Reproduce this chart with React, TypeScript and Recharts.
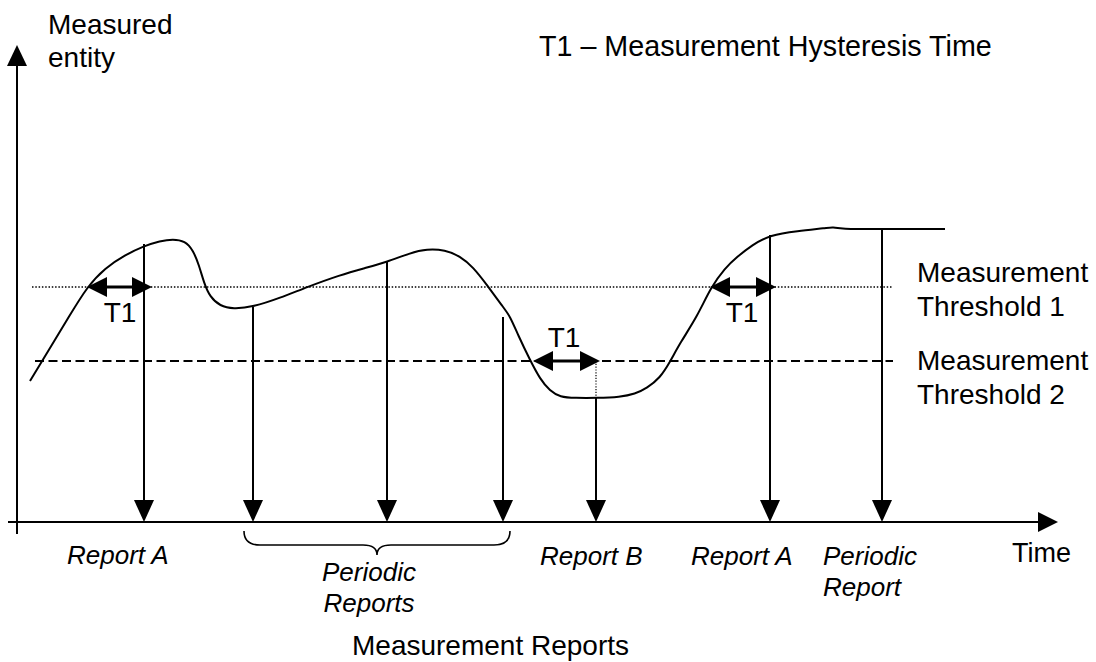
import React from 'react';
import { ComposedChart, Line, XAxis, YAxis, ReferenceLine, ReferenceDot } from 'recharts';

// ---- data (time units ~ px, level = height above bottom) ----
const curveTimes = [30, 50, 70, 87, 105, 125, 144, 160, 173, 185, 193, 199, 204, 210, 220, 233, 253, 280, 307, 340, 365, 387, 410, 427, 445, 460, 473, 487, 503, 510, 518, 530, 540, 550, 560, 575, 597, 620, 635, 647, 660, 670, 680, 697, 711, 725, 737, 752, 770, 797, 827, 833, 840, 880, 945];
const curveLevels = [281, 314, 347, 375, 394, 407, 416, 421, 423, 421, 412, 397, 379, 365, 356, 353, 355, 364, 375, 387, 394, 400, 409, 413, 412, 406, 395, 377, 355, 346, 327, 302, 283, 271, 265, 264, 264, 265, 268, 274, 284, 300, 319, 345, 375, 394, 405, 417, 427, 431, 434, 435, 433, 433, 433];

const thresholdLevels = [375, 301];
const thresholdStart = 32;
const thresholdEnd = 893;

const reportTimes = [144, 253, 387, 503, 596, 770, 882];
const reportTopLevels = [418, 355, 400, 345, 264, 427, 432];
const axisLevel = 140;

const hysteresisStarts = [87, 533, 710];
const hysteresisEnds = [152, 600, 776];
const hysteresisLevels = [375, 301, 375];

const reportLabelLines = [['Report A'], ['Periodic', 'Reports'], ['Report B'], ['Report A'], ['Periodic', 'Report']];
const thresholdLabelLines = [['Measurement', 'Threshold 1'], ['Measurement', 'Threshold 2']];
const yAxisTitle = ['Measured', 'entity'];
const xAxisTitle = 'Time';
const legendTitle = 'T1 \u2013 Measurement Hysteresis Time';
const bottomTitle = 'Measurement Reports';
const hysteresisLabel = 'T1';

const curveData = curveTimes.map((t, i) => ({ t, level: curveLevels[i] }));

// ---- layout (annotation anchors) ----
const FONT = "'Liberation Sans', Arial, Helvetica, sans-serif";
const reportLabelAnchors = [
  { t: 67, level: 98, anchor: 'start' },
  { t: 369, level: 81, anchor: 'middle' },
  { t: 540, level: 97, anchor: 'start' },
  { t: 691, level: 97, anchor: 'start' },
  { t: 823, level: 97, anchor: 'start' },
];
const thresholdLabelAnchors = [{ t: 917, level: 380 }, { t: 917, level: 292 }];
const hysteresisLabelAnchors = [{ t: 120, level: 340 }, { t: 564, level: 315 }, { t: 742, level: 340 }];

const DownArrow = (p: any) => {
  const x = p.x1;
  const top = Math.min(p.y1, p.y2);
  const tip = Math.max(p.y1, p.y2);
  return (
    <g>
      <line x1={x} y1={top} x2={x} y2={tip - 18} stroke="#000" strokeWidth={2} />
      <polygon points={`${x - 10},${tip - 22} ${x + 10},${tip - 22} ${x},${tip}`} fill="#000" />
    </g>
  );
};

const DoubleArrow = (p: any) => {
  const y = p.y1;
  const a = Math.min(p.x1, p.x2);
  const b = Math.max(p.x1, p.x2);
  return (
    <g>
      <line x1={a + 18} y1={y} x2={b - 18} y2={y} stroke="#000" strokeWidth={3} />
      <polygon points={`${a},${y} ${a + 20},${y - 10} ${a + 20},${y + 10}`} fill="#000" />
      <polygon points={`${b},${y} ${b - 20},${y - 10} ${b - 20},${y + 10}`} fill="#000" />
    </g>
  );
};

const RightArrowAxis = (p: any) => {
  const y = p.y1;
  const a = Math.min(p.x1, p.x2);
  const b = Math.max(p.x1, p.x2);
  return (
    <g>
      <line x1={a} y1={y} x2={b - 18} y2={y} stroke="#000" strokeWidth={2} />
      <polygon points={`${b},${y} ${b - 20},${y - 10} ${b - 20},${y + 10}`} fill="#000" />
    </g>
  );
};

const UpArrowAxis = (p: any) => {
  const x = p.x1;
  const tip = Math.min(p.y1, p.y2);
  const bottom = Math.max(p.y1, p.y2);
  return (
    <g>
      <line x1={x} y1={bottom} x2={x} y2={tip + 18} stroke="#000" strokeWidth={2} />
      <polygon points={`${x},${tip} ${x - 10},${tip + 21} ${x + 10},${tip + 21}`} fill="#000" />
    </g>
  );
};

const Brace = (p: any) => {
  const a = Math.min(p.x1, p.x2);
  const b = Math.max(p.x1, p.x2);
  const y = p.y1;
  const m = (a + b) / 2;
  const h = y + 14;
  const tip = y + 24;
  const d = `M${a},${y} Q${a},${h} ${a + 16},${h} L${m - 14},${h} Q${m},${h} ${m},${tip} Q${m},${h} ${m + 14},${h} L${b - 16},${h} Q${b},${h} ${b},${y}`;
  return <path d={d} fill="none" stroke="#000" strokeWidth={1.6} />;
};

const textShape = (lines: string[], size: number, anchor: string, italic: boolean, lh: number) => (p: any) => (
  <text x={p.cx} y={p.cy} fontFamily={FONT} fontSize={size} fontStyle={italic ? 'italic' : 'normal'} textAnchor={anchor} fill="#000">
    {lines.map((l, i) => (
      <tspan key={i} x={p.cx} dy={i === 0 ? 0 : lh}>{l}</tspan>
    ))}
  </text>
);

export default function App() {
  return (
    <div style={{ position: 'absolute', left: 0, top: 0, width: 1096, height: 662, background: '#fff' }}>
      <ComposedChart width={1096} height={662} data={curveData} margin={{ top: 0, right: 0, bottom: 0, left: 0 }}>
        <XAxis dataKey="t" type="number" domain={[0, 1096]} hide allowDataOverflow />
        <YAxis type="number" domain={[0, 662]} hide allowDataOverflow />

        {/* thresholds */}
        <ReferenceLine segment={[{ x: thresholdStart, y: thresholdLevels[0] }, { x: thresholdEnd, y: thresholdLevels[0] }]} stroke="#000" strokeWidth={1.5} strokeDasharray="1.5 1.8" ifOverflow="visible" />
        <ReferenceLine segment={[{ x: thresholdStart + 3, y: thresholdLevels[1] }, { x: thresholdEnd, y: thresholdLevels[1] }]} stroke="#000" strokeWidth={1.8} strokeDasharray="9 4.5" ifOverflow="visible" />

        {/* axes */}
        <ReferenceLine segment={[{ x: 8, y: axisLevel }, { x: 1058, y: axisLevel }]} shape={RightArrowAxis} ifOverflow="visible" />
        <ReferenceLine segment={[{ x: 17, y: 128 }, { x: 17, y: 617 }]} shape={UpArrowAxis} ifOverflow="visible" />

        {/* report B guide */}
        <ReferenceLine segment={[{ x: reportTimes[4], y: hysteresisLevels[1] }, { x: reportTimes[4], y: reportTopLevels[4] }]} stroke="#000" strokeWidth={1.2} strokeDasharray="1.2 1.6" ifOverflow="visible" />

        {/* report arrows */}
        {reportTimes.map((t, i) => (
          <ReferenceLine key={'r' + i} segment={[{ x: t, y: reportTopLevels[i] }, { x: t, y: axisLevel }]} shape={DownArrow} ifOverflow="visible" />
        ))}

        {/* hysteresis arrows */}
        {hysteresisStarts.map((s, i) => (
          <ReferenceLine key={'h' + i} segment={[{ x: s, y: hysteresisLevels[i] }, { x: hysteresisEnds[i], y: hysteresisLevels[i] }]} shape={DoubleArrow} ifOverflow="visible" />
        ))}

        {/* brace */}
        <ReferenceLine segment={[{ x: 244, y: 131 }, { x: 510, y: 131 }]} shape={Brace} ifOverflow="visible" />

        <Line dataKey="level" type="basis" stroke="#000" strokeWidth={2} dot={false} activeDot={false} isAnimationActive={false} />

        {/* texts */}
        <ReferenceDot x={48} y={628} r={0} ifOverflow="visible" shape={textShape(yAxisTitle, 28, 'start', false, 33)} />
        <ReferenceDot x={539} y={606} r={0} ifOverflow="visible" shape={textShape([legendTitle], 28.7, 'start', false, 0)} />
        <ReferenceDot x={1012} y={100} r={0} ifOverflow="visible" shape={textShape([xAxisTitle], 27, 'start', false, 0)} />
        <ReferenceDot x={352} y={7} r={0} ifOverflow="visible" shape={textShape([bottomTitle], 28, 'start', false, 0)} />
        {thresholdLabelLines.map((lines, i) => (
          <ReferenceDot key={'tl' + i} x={thresholdLabelAnchors[i].t} y={thresholdLabelAnchors[i].level} r={0} ifOverflow="visible" shape={textShape(lines, 28, 'start', false, 34)} />
        ))}
        {hysteresisLabelAnchors.map((a, i) => (
          <ReferenceDot key={'hl' + i} x={a.t} y={a.level} r={0} ifOverflow="visible" shape={textShape([hysteresisLabel], 28, 'middle', false, 0)} />
        ))}
        {reportLabelLines.map((lines, i) => (
          <ReferenceDot key={'rl' + i} x={reportLabelAnchors[i].t} y={reportLabelAnchors[i].level} r={0} ifOverflow="visible" shape={textShape(lines, 26, reportLabelAnchors[i].anchor, true, 31)} />
        ))}
      </ComposedChart>
    </div>
  );
}
